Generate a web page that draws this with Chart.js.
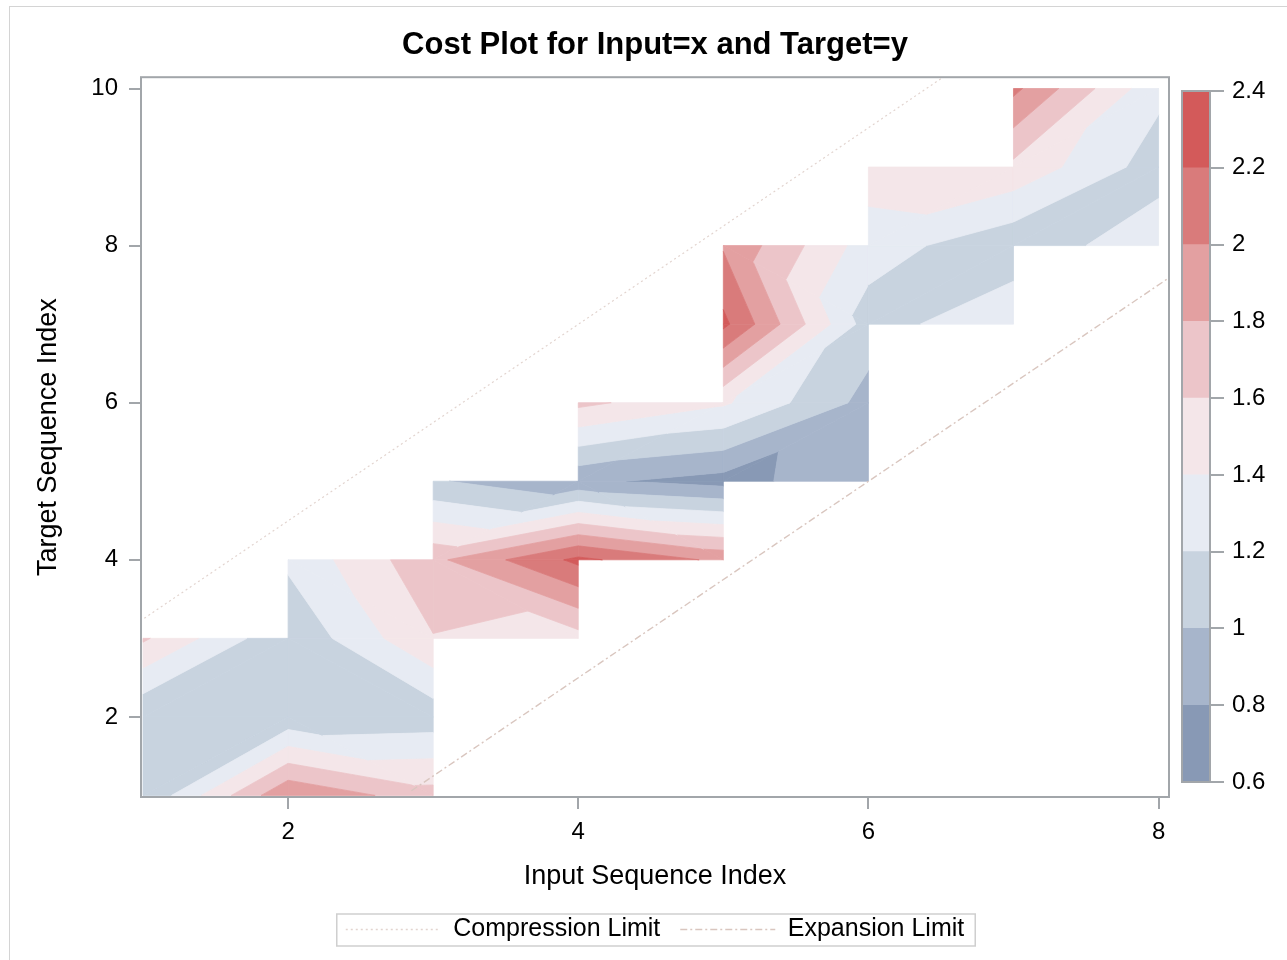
<!DOCTYPE html>
<html>
<head>
<meta charset="utf-8">
<script src="https://cdn.jsdelivr.net/npm/chart.js@4.4.1/dist/chart.umd.min.js"></script>
<style>
  html, body { margin: 0; padding: 0; background: #fff; width: 1287px; height: 960px; overflow: hidden; }
  #frame { position: absolute; left: 9px; top: 6px; width: 1400px; height: 1100px; border: 1px solid #d4d4d4; }
  #main { position: absolute; left: 0; top: 0; }
  #bar { position: absolute; left: 1175px; top: 60px; }
</style>
</head>
<body>
<div id="frame"></div>
<canvas id="main" width="1287" height="960"></canvas>
<canvas id="bar" width="112" height="760"></canvas>
<script>
// ─── Datos ───────────────────────────────────────────────────────────────────
// Índices de la serie de entrada (x) y de la serie objetivo (y)
const inputIndex  = [1, 2, 3, 4, 5, 6, 7, 8];
const targetIndex = [1, 2, 3, 4, 5, 6, 7, 8, 9, 10];

// Coste en cada punto (entrada i, objetivo j); null = fuera de la banda
const costIn1 = [1.01, 1.02, 1.63, null, null, null, null, null, null, null];
const costIn2 = [1.98, 1.05, 1.03, 1.24, null, null, null, null, null, null];
const costIn3 = [1.68, 1.08, 1.59, 1.75, 1.02, null, null, null, null, null];
const costIn4 = [null, null, 1.52, 2.25, 0.84, 1.65, null, null, null, null];
const costIn5 = [null, null, null, 1.95, 0.72, 1.43, 2.25, 1.98, null, null];
const costIn6 = [null, null, null, null, 0.95, 0.93, 1.10, 1.30, 1.50, null];
const costIn7 = [null, null, null, null, null, null, 1.38, 1.05, 1.55, 2.05];
const costIn8 = [null, null, null, null, null, null, null, 1.35, 1.10, 1.25];
const cost = [costIn1, costIn2, costIn3, costIn4, costIn5, costIn6, costIn7, costIn8];

// Niveles del contorno y sus colores
const levels = [0.6, 0.8, 1.0, 1.2, 1.4, 1.6, 1.8, 2.0, 2.2, 2.4];
const bandColors = ['#8899b5', '#a7b5cb', '#c8d3df', '#e7ebf3', '#f4e6e9',
                    '#ecc5c9', '#e3a0a1', '#d97b7b', '#d35a5a'];

// Límites de compresión y expansión
const compressionX = [0.98, 6.52];
const compressionY = [3.22, 10.15];
const expansionX   = [2.85, 8.08];
const expansionY   = [1.06, 7.6];

// Marcas de los ejes
const xTicks = [2, 4, 6, 8];
const yTicks = [2, 4, 6, 8, 10];

Chart.defaults.font.family = "'Liberation Sans', Arial, sans-serif";
Chart.defaults.color = '#000';

const AXIS_GRAY = '#a2a6aa';

// ─── Helpers ────────────────────────────────────────────────────────────────

// recorta un polígono (vértices con z) al semiplano z >= level o z < level
function clipPoly(poly, level, keepAbove) {
  const out = [];
  for (let i = 0; i < poly.length; i++) {
    const a = poly[i], b = poly[(i + 1) % poly.length];
    const ina = keepAbove ? a.z >= level : a.z < level;
    const inb = keepAbove ? b.z >= level : b.z < level;
    if (ina) out.push(a);
    if (ina !== inb) {
      const t = (level - a.z) / (b.z - a.z);
      out.push({ x: a.x + t * (b.x - a.x), y: a.y + t * (b.y - a.y), z: level });
    }
  }
  return out;
}

function cellTriangles() {
  const tris = [];
  for (let i = 0; i < inputIndex.length - 1; i++) {
    for (let j = 0; j < targetIndex.length - 1; j++) {
      const za = cost[i][j], zb = cost[i + 1][j], zc = cost[i + 1][j + 1], zd = cost[i][j + 1];
      if ([za, zb, zc, zd].some(v => v === null)) continue;
      const a = { x: inputIndex[i],     y: targetIndex[j],     z: za };
      const b = { x: inputIndex[i + 1], y: targetIndex[j],     z: zb };
      const c = { x: inputIndex[i + 1], y: targetIndex[j + 1], z: zc };
      const d = { x: inputIndex[i],     y: targetIndex[j + 1], z: zd };
      // diagonal entre los vértices de valor más parecido
      if (Math.abs(za - zc) <= Math.abs(zb - zd)) {
        tris.push([a, b, c], [a, c, d]);
      } else {
        tris.push([a, b, d], [b, c, d]);
      }
    }
  }
  return tris;
}

const contourPlugin = {
  id: 'contour',
  beforeDatasetsDraw(chart) {
    const { ctx, chartArea, scales: { x, y } } = chart;
    ctx.save();
    ctx.beginPath();
    ctx.rect(chartArea.left, chartArea.top, chartArea.width, chartArea.height);
    ctx.clip();
    ctx.lineJoin = 'round';
    ctx.lineWidth = 0.8;
    const nb = bandColors.length;
    for (const tri of cellTriangles()) {
      for (let k = 0; k < nb; k++) {
        let poly = tri;
        if (k > 0) poly = clipPoly(poly, levels[k], true);
        if (k < nb - 1) poly = clipPoly(poly, levels[k + 1], false);
        if (poly.length < 3) continue;
        ctx.beginPath();
        poly.forEach((p, n) => {
          const px = x.getPixelForValue(p.x), py = y.getPixelForValue(p.y);
          n === 0 ? ctx.moveTo(px, py) : ctx.lineTo(px, py);
        });
        ctx.closePath();
        ctx.fillStyle = bandColors[k];
        ctx.strokeStyle = bandColors[k];
        ctx.fill();
        ctx.stroke();
      }
    }
    ctx.restore();
  }
};

const framePlugin = {
  id: 'frame',
  afterDatasetsDraw(chart) {
    const { ctx, chartArea: a } = chart;
    ctx.save();
    ctx.strokeStyle = AXIS_GRAY;
    ctx.lineWidth = 2;
    ctx.strokeRect(a.left, a.top, a.width, a.height);
    ctx.restore();
  },
  afterDraw(chart) {
    const boxes = chart.legend && chart.legend.legendHitBoxes;
    if (!boxes || !boxes.length) return;
    const left = Math.min(...boxes.map(b => b.left));
    const right = Math.max(...boxes.map(b => b.left + b.width));
    const top = Math.min(...boxes.map(b => b.top));
    const bottom = Math.max(...boxes.map(b => b.top + b.height));
    const { ctx } = chart;
    ctx.save();
    ctx.strokeStyle = '#cfcfcf';
    ctx.lineWidth = 1.5;
    ctx.strokeRect(left - 9, top - 3, right - left + 20, bottom - top + 7);
    ctx.restore();
  }
};

// ─── Gráfico principal ──────────────────────────────────────────────────────
new Chart(document.getElementById('main'), {
  type: 'line',
  data: {
    datasets: [
      {
        label: 'Compression Limit',
        data: compressionX.map((v, i) => ({ x: v, y: compressionY[i] })),
        borderColor: '#e2d4cf', borderWidth: 1.2, borderDash: [2, 3],
        pointRadius: 0, fill: false,
      },
      {
        label: 'Expansion Limit',
        data: expansionX.map((v, i) => ({ x: v, y: expansionY[i] })),
        borderColor: '#d9c6bf', borderWidth: 1.4, borderDash: [7, 3, 2, 3],
        pointRadius: 0, fill: false,
      },
    ],
  },
  options: {
    responsive: false,
    animation: false,
    devicePixelRatio: 1,
    layout: { padding: { left: 0, right: 118, top: 0, bottom: 8 } },
    scales: {
      x: {
        type: 'linear', min: 0.986, max: 8.072,
        afterBuildTicks: s => { s.ticks = xTicks.map(v => ({ value: v })); },
        afterFit: s => { s.height = 100; },
        grid: { drawOnChartArea: false, drawTicks: true, tickLength: 12, color: AXIS_GRAY, lineWidth: 2 },
        border: { display: false },
        ticks: { font: { size: 24 }, color: '#000', padding: 9, maxRotation: 0, autoSkip: false },
        title: { display: true, text: 'Input Sequence Index', font: { size: 27 }, color: '#000',
                 padding: { top: 0, bottom: 4 } },
      },
      y: {
        type: 'linear', min: 0.98, max: 10.144,
        afterBuildTicks: s => { s.ticks = yTicks.map(v => ({ value: v })); },
        afterFit: s => { s.width = 141; },
        grid: { drawOnChartArea: false, drawTicks: true, tickLength: 12, color: AXIS_GRAY, lineWidth: 2 },
        border: { display: false },
        ticks: { font: { size: 24 }, color: '#000', padding: 11, autoSkip: false },
        title: { display: true, text: 'Target Sequence Index', font: { size: 27 }, color: '#000',
                 padding: { top: 32, bottom: 0 } },
      },
    },
    plugins: {
      title: {
        display: true, text: 'Cost Plot for Input=x and Target=y', fullSize: false,
        font: { size: 31, weight: 'bold' }, color: '#000',
        padding: { top: 27, bottom: 13 },
      },
      legend: {
        position: 'bottom', fullSize: false,
        labels: {
          usePointStyle: true, pointStyle: 'line', pointStyleWidth: 95,
          font: { size: 25 }, color: '#000', padding: 20,
          // con usePointStyle el estilo viene del punto: recuperar trazo de la línea
          generateLabels: chart =>
            Chart.defaults.plugins.legend.labels.generateLabels(chart).map((item, i) => ({
              ...item,
              lineDash: chart.data.datasets[i].borderDash,
              lineWidth: 1.5,
              strokeStyle: chart.data.datasets[i].borderColor,
            })),
        },
      },
      tooltip: { enabled: false },
    },
  },
  plugins: [contourPlugin, framePlugin],
});

// ─── Barra de colores ───────────────────────────────────────────────────────
const barFrame = {
  id: 'barFrame',
  afterDatasetsDraw(chart) {
    const { ctx, chartArea: a } = chart;
    ctx.save();
    ctx.strokeStyle = AXIS_GRAY;
    ctx.lineWidth = 2;
    ctx.strokeRect(a.left, a.top, a.width, a.height);
    ctx.restore();
  }
};

new Chart(document.getElementById('bar'), {
  type: 'bar',
  data: {
    labels: ['cost'],
    datasets: bandColors.map((c, k) => ({
      data: [[levels[k], levels[k + 1]]],
      backgroundColor: c, borderWidth: 0,
      barPercentage: 1, categoryPercentage: 1, grouped: false,
    })),
  },
  options: {
    responsive: false,
    animation: false,
    devicePixelRatio: 1,
    layout: { padding: { left: 7, top: 31, bottom: 38, right: 0 } },
    scales: {
      x: { display: false },
      y: {
        position: 'right', min: 0.6, max: 2.4,
        afterBuildTicks: s => { s.ticks = levels.map(v => ({ value: v })); },
        afterFit: s => { s.width = 77; },
        grid: { drawOnChartArea: false, drawTicks: true, tickLength: 14, color: AXIS_GRAY, lineWidth: 2 },
        border: { display: false },
        ticks: { font: { size: 24 }, color: '#000', padding: 8, callback: v => String(+v.toFixed(1)) },
      },
    },
    plugins: { legend: { display: false }, tooltip: { enabled: false } },
  },
  plugins: [barFrame],
});
</script>
</body>
</html>
